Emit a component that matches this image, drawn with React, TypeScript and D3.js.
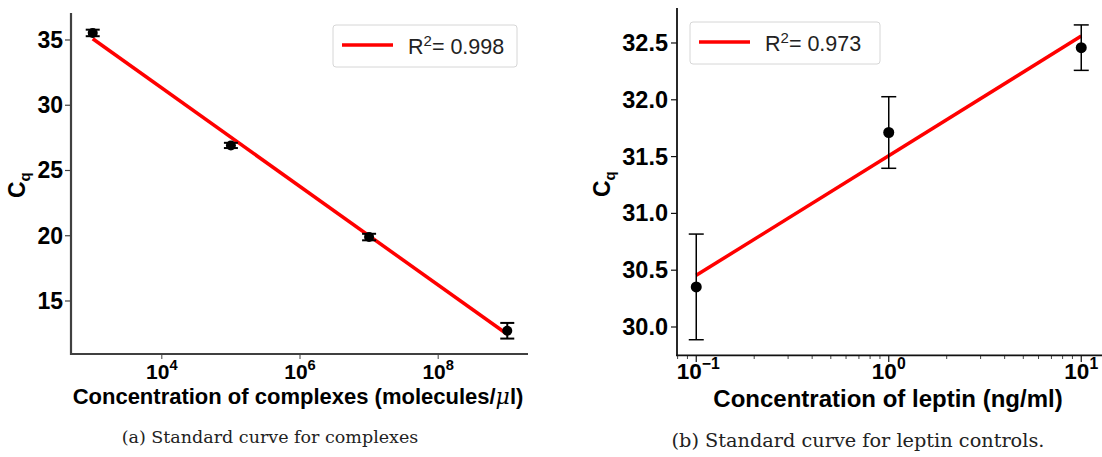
import React from "react";
import * as d3 from "d3";

// ---- Data: panel (a) complexes ----
const concA = [1e3, 1e5, 1e7, 1e9];
const cqA = [35.54, 26.92, 19.9, 12.72];
const errA = [0.25, 0.2, 0.25, 0.6];
const yTicksA = [15, 20, 25, 30, 35];
const xTicksA = [1e4, 1e6, 1e8];
const r2A = "0.998";

// ---- Data: panel (b) leptin ----
const concB = [0.1, 1, 10];
const cqB = [30.353, 31.712, 32.459];
const errB = [0.465, 0.315, 0.2];
const yTicksB = [30.0, 30.5, 31.0, 31.5, 32.0, 32.5];
const xTicksB = [0.1, 1, 10];
const r2B = "0.973";

function fit(xs: number[], ys: number[]) {
  const lx = xs.map((v) => Math.log10(v));
  const mx = d3.mean(lx)!;
  const my = d3.mean(ys)!;
  const num = d3.sum(lx.map((v, i) => (v - mx) * (ys[i] - my)));
  const den = d3.sum(lx.map((v) => (v - mx) ** 2));
  const slope = num / den;
  return (x: number) => my + slope * (Math.log10(x) - mx);
}

const SANS = "'Liberation Sans', Arial, sans-serif";
const SERIF = "'DejaVu Serif', serif";

function Pow({ x, y, exp, size }: { x: number; y: number; exp: string; size: number }) {
  return (
    <text x={x} y={y} textAnchor="middle" fontFamily={SANS} fontWeight="bold" fontSize={size} fill="#000">
      10
      <tspan dy={-size * 0.44} fontSize={size * 0.7}>{exp}</tspan>
    </text>
  );
}

function Legend({ x, y, w, r2 }: { x: number; y: number; w: number; r2: string }) {
  return (
    <g>
      <rect x={x} y={y} width={w} height={42} rx={3} fill="#fff" stroke="#d6d6d6" strokeWidth={1} />
      <line x1={x + 9} x2={x + 60} y1={y + 20} y2={y + 20} stroke="#ff0000" strokeWidth={3.5} />
      <text x={x + 75} y={y + 28.5} fontFamily={SANS} fontSize={21.5} fill="#222">
        R<tspan dy={-8} fontSize={15}>2</tspan>
        <tspan dy={8}>= {r2}</tspan>
      </text>
    </g>
  );
}

export default function App() {
  // Panel A scales
  const xA = d3.scaleLog().domain([10 ** 2.7, 10 ** 9.3]).range([72, 528]);
  const yA = d3.scaleLinear().domain([10.9, 37.03]).range([354.5, 13.5]);
  const fA = fit(concA, cqA);

  // Panel B scales
  const xB = d3.scaleLog().domain([10 ** -1.1, 10 ** 1.1]).range([677, 1100.5]);
  const yB = d3.scaleLinear().domain([29.75, 32.8]).range([355.4, 8.9]);
  const fB = fit(concB, cqB);

  const minorB: number[] = [];
  for (let e = -2; e <= 1; e++) for (let m = 2; m <= 9; m++) {
    const v = m * 10 ** e;
    if (v >= 10 ** -1.1 && v <= 10 ** 1.1) minorB.push(v);
  }

  const lineA = d3.line<number>().x((d) => xA(d)).y((d) => yA(fA(d)));
  const lineB = d3.line<number>().x((d) => xB(d)).y((d) => yB(fB(d)));

  const spineA = "#404040";

  return (
    <svg width={1102} height={457} style={{ position: "absolute", left: 0, top: 0, background: "#fff" }}>
      {/* ===== Panel A ===== */}
      <g>
        <path d={lineA([concA[0], concA[concA.length - 1]])!} stroke="#ff0000" strokeWidth={3.5} fill="none" />
        {concA.map((c, i) => (
          <g key={i}>
            <line x1={xA(c)} x2={xA(c)} y1={yA(cqA[i] - errA[i])} y2={yA(cqA[i] + errA[i])} stroke="#000" strokeWidth={2} />
            <line x1={xA(c) - 7} x2={xA(c) + 7} y1={yA(cqA[i] - errA[i])} y2={yA(cqA[i] - errA[i])} stroke="#000" strokeWidth={2} />
            <line x1={xA(c) - 7} x2={xA(c) + 7} y1={yA(cqA[i] + errA[i])} y2={yA(cqA[i] + errA[i])} stroke="#000" strokeWidth={2} />
            <circle cx={xA(c)} cy={yA(cqA[i])} r={5} fill="#000" />
          </g>
        ))}
        <line x1={71} x2={71} y1={13} y2={355} stroke={spineA} strokeWidth={2.2} />
        <line x1={70} x2={528} y1={354} y2={354} stroke={spineA} strokeWidth={2.2} />
        {yTicksA.map((t) => (
          <g key={t}>
            <line x1={65} x2={70} y1={yA(t)} y2={yA(t)} stroke={spineA} strokeWidth={1.2} />
            <text x={63} y={yA(t) + 8} textAnchor="end" fontFamily={SANS} fontWeight="bold" fontSize={23} fill="#000">
              {t}
            </text>
          </g>
        ))}
        {xTicksA.map((t) => (
          <g key={t}>
            <line x1={xA(t)} x2={xA(t)} y1={355} y2={359} stroke={spineA} strokeWidth={1} />
            <Pow x={xA(t)} y={379} size={21} exp={String(Math.round(Math.log10(t)))} />
          </g>
        ))}
        <text x={298} y={404} textAnchor="middle" fontFamily={SANS} fontWeight="bold" fontSize={22} fill="#000">
          Concentration of complexes (molecules/
          <tspan fontStyle="italic" fontFamily="'DejaVu Serif', serif" fontWeight="normal">μ</tspan>l)
        </text>
        <text transform="translate(25,198) rotate(-90)" fontFamily={SANS} fontWeight="bold" fontSize={23} fill="#000">
          C<tspan fontSize={15} dy={5}>q</tspan>
        </text>
        <Legend x={333} y={25} w={184} r2={r2A} />
        <text x={270} y={443} textAnchor="middle" fontFamily={SERIF} fontSize={17.5} fill="#222">
          (a) Standard curve for complexes
        </text>
      </g>

      {/* ===== Panel B ===== */}
      <g>
        <path d={lineB([concB[0], concB[concB.length - 1]])!} stroke="#ff0000" strokeWidth={3.5} fill="none" />
        {concB.map((c, i) => (
          <g key={i}>
            <line x1={xB(c)} x2={xB(c)} y1={yB(cqB[i] - errB[i])} y2={yB(cqB[i] + errB[i])} stroke="#000" strokeWidth={1.5} />
            <line x1={xB(c) - 7.5} x2={xB(c) + 7.5} y1={yB(cqB[i] - errB[i])} y2={yB(cqB[i] - errB[i])} stroke="#000" strokeWidth={1.5} />
            <line x1={xB(c) - 7.5} x2={xB(c) + 7.5} y1={yB(cqB[i] + errB[i])} y2={yB(cqB[i] + errB[i])} stroke="#000" strokeWidth={1.5} />
            <circle cx={xB(c)} cy={yB(cqB[i])} r={5.5} fill="#000" />
          </g>
        ))}
        <line x1={677} x2={677} y1={8} y2={356} stroke="#111" strokeWidth={1.8} />
        <line x1={676} x2={1102} y1={355.4} y2={355.4} stroke="#111" strokeWidth={1.8} />
        {yTicksB.map((t) => (
          <g key={t}>
            <line x1={671} x2={677} y1={yB(t)} y2={yB(t)} stroke="#111" strokeWidth={1.2} />
            <text x={668} y={yB(t) + 8} textAnchor="end" fontFamily={SANS} fontWeight="bold" fontSize={23.5} fill="#000">
              {t.toFixed(1)}
            </text>
          </g>
        ))}
        {minorB.map((t) => (
          <line key={t} x1={xB(t)} x2={xB(t)} y1={356} y2={359} stroke="#111" strokeWidth={0.8} />
        ))}
        {xTicksB.map((t) => (
          <g key={t}>
            <line x1={xB(t)} x2={xB(t)} y1={356} y2={362} stroke="#111" strokeWidth={1.2} />
            <Pow x={xB(t) + (t < 1 ? 2 : 0)} y={379} size={22.5} exp={String(Math.round(Math.log10(t))).replace("-", "−")} />
          </g>
        ))}
        <text x={888} y={407} textAnchor="middle" fontFamily={SANS} fontWeight="bold" fontSize={24} fill="#000">
          Concentration of leptin (ng/ml)
        </text>
        <text transform="translate(610,197) rotate(-90)" fontFamily={SANS} fontWeight="bold" fontSize={23} fill="#000">
          C<tspan fontSize={15} dy={5}>q</tspan>
        </text>
        <Legend x={690} y={22} w={190} r2={r2B} />
        <text x={858} y={447} textAnchor="middle" fontFamily={SERIF} fontSize={19.3} fill="#222">
          (b) Standard curve for leptin controls.
        </text>
      </g>
    </svg>
  );
}
